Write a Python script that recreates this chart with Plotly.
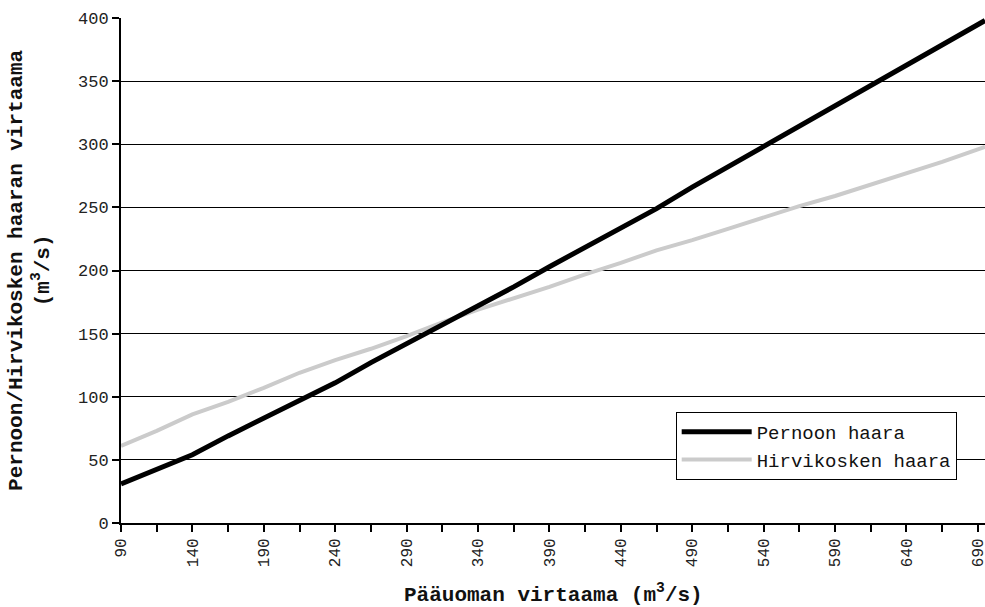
import plotly.graph_objects as go

# Main channel discharge (m3/s)
paauoma = [90, 115, 140, 165, 190, 215, 240, 265, 290, 315, 340, 365, 390,
           415, 440, 465, 490, 515, 540, 565, 590, 615, 640, 665, 690, 695]
# Pernoon haara discharge
pernoon = [31, 42, 54, 69, 83, 96, 111, 127, 142, 156, 171, 187, 203,
           218, 234, 249, 266, 282, 298, 314, 331, 347, 363, 379, 394, 398]
# Hirvikosken haara discharge
hirvikoski = [61, 73, 86, 96, 107, 119, 129, 138, 148, 159, 169, 178, 187,
              197, 206, 216, 224, 233, 242, 251, 259, 268, 277, 286, 296, 298]

x_ticks = [90, 140, 190, 240, 290, 340, 390, 440, 490, 540, 590, 640, 690]
y_ticks = [0, 50, 100, 150, 200, 250, 300, 350, 400]

FONT = "Liberation Mono, Courier New, monospace"

fig = go.Figure()
fig.add_trace(go.Scatter(
    x=paauoma, y=hirvikoski, mode="lines", name="Hirvikosken haara",
    line=dict(color="#cbcbcb", width=4),
))
fig.add_trace(go.Scatter(
    x=paauoma, y=pernoon, mode="lines", name="Pernoon haara",
    line=dict(color="#000000", width=5),
))

fig.update_layout(
    width=985, height=607,
    margin=dict(l=121, r=0, t=18, b=84, autoexpand=False),
    paper_bgcolor="white", plot_bgcolor="white",
    font=dict(family=FONT, color="#222222"),
    showlegend=True,
    legend=dict(
        x=0.642, y=0.22, xanchor="left", yanchor="top",
        bgcolor="white", bordercolor="black", borderwidth=1,
        font=dict(family=FONT, size=19, color="#111111"),
        traceorder="reversed", itemwidth=70,
        tracegroupgap=0,
    ),
    xaxis=dict(
        range=[90, 695], tickmode="array", tickvals=x_ticks,
        ticktext=[str(v) for v in x_ticks], automargin=False,
        ticklabeloverflow="allow",
        tickangle=-90, ticks="outside", ticklen=7, tickwidth=1.5, tickcolor="black",
        minor=dict(tickmode="linear", tick0=90, dtick=25, ticks="outside",
                   ticklen=7, tickwidth=1.5, tickcolor="black"),
        showline=True, linecolor="black", linewidth=2,
        showgrid=False, zeroline=False,
        tickfont=dict(family=FONT, size=16, color="#222222"),
    ),
    yaxis=dict(
        range=[0, 400], tickmode="array", tickvals=y_ticks, automargin=False,
        ticks="outside", ticklen=7, tickwidth=1.5, tickcolor="black",
        showline=True, linecolor="black", linewidth=2,
        showgrid=True, gridcolor="black", gridwidth=1, zeroline=False,
        tickfont=dict(family=FONT, size=17, color="#222222"),
    ),
    annotations=[
        dict(text="<b>Pääuoman virtaama (m<sup>3</sup>/s)</b>",
             xref="paper", yref="paper", x=0.5, y=-0.14,
             xanchor="center", yanchor="middle", showarrow=False,
             font=dict(family=FONT, size=21, color="#111111")),
        dict(text="<b>Pernoon/Hirvikosken haaran virtaama<br>(m<sup>3</sup>/s)</b>",
             xref="paper", yref="paper", x=-0.106, y=0.5, textangle=-90,
             xanchor="center", yanchor="middle", showarrow=False,
             font=dict(family=FONT, size=21, color="#111111")),
    ],
)

fig.write_html("out.html", config={"displayModeBar": False},
               post_script="document.body.style.margin='0px';")
